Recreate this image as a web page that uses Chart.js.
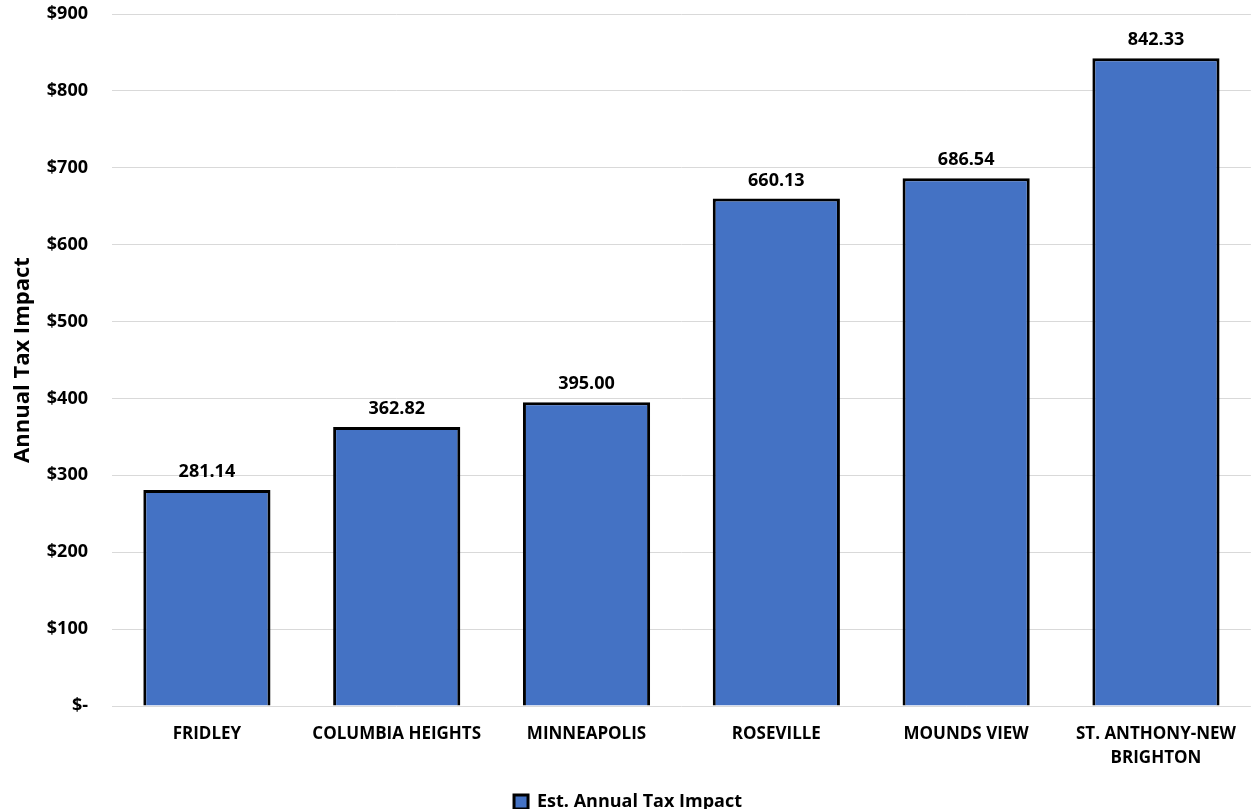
<!DOCTYPE html>
<html lang="en">
<head>
    <meta charset="UTF-8">
    <title>Est. Annual Tax Impact</title>
    <style>
        body {
            margin: 0;
            padding: 0;
            background: white;
        }

        .chart-box {
            width: 1252px;
            height: 809px;
        }
    </style>
</head>
<body>
    <div class="chart-box">
        <canvas id="taxChart"></canvas>
    </div>

    <script src="https://cdn.jsdelivr.net/npm/chart.js"></script>
    <script>
        // data
        const cities = ["FRIDLEY", "COLUMBIA HEIGHTS", "MINNEAPOLIS", "ROSEVILLE", "MOUNDS VIEW", ["ST. ANTHONY-NEW", "BRIGHTON"]];
        const taxImpact = [281.14, 362.82, 395.00, 660.13, 686.54, 842.33];
        const yTicks = [0, 100, 200, 300, 400, 500, 600, 700, 800, 900];

        const fontFamily = "'Open Sans', 'Noto Sans', sans-serif";

        // small plugin to write the value above every bar
        const barValues = {
            id: "barValues",
            afterDatasetsDraw(chart) {
                const ctx = chart.ctx;
                const meta = chart.getDatasetMeta(0);
                ctx.save();
                ctx.font = "bold 18px " + fontFamily;
                ctx.fillStyle = "#000";
                ctx.textAlign = "center";
                ctx.textBaseline = "middle";
                meta.data.forEach((bar, i) => {
                    ctx.fillText(taxImpact[i].toFixed(2), bar.x, bar.y - 18);
                });
                ctx.restore();
            }
        };

        const ctx = document.getElementById("taxChart").getContext("2d");
        new Chart(ctx, {
            type: "bar",
            data: {
                labels: cities,
                datasets: [{
                    label: "Est. Annual Tax Impact",
                    data: taxImpact,
                    backgroundColor: "#4472C4",
                    borderColor: "#000",
                    borderWidth: 3,
                    categoryPercentage: 1,
                    barPercentage: 0.67
                }]
            },
            options: {
                responsive: true,
                maintainAspectRatio: false,
                animation: false,
                layout: {
                    padding: { top: 14, right: 0, left: 4, bottom: -12 }
                },
                plugins: {
                    legend: {
                        position: "bottom",
                        labels: {
                            color: "#000",
                            font: { family: fontFamily, weight: "bold", size: 18 },
                            boxWidth: 14,
                            boxHeight: 14,
                            padding: 0
                        }
                    },
                    tooltip: { enabled: false }
                },
                scales: {
                    x: {
                        grid: { display: false, drawTicks: false },
                        border: { display: false },
                        ticks: {
                            color: "#000",
                            font: { family: fontFamily, weight: "bold", size: 17, lineHeight: 1.41 },
                            maxRotation: 0,
                            padding: 16
                        },
                        afterFit(axis) {
                            axis.height += 7;
                        }
                    },
                    y: {
                        min: 0,
                        max: 900,
                        afterBuildTicks(axis) {
                            axis.ticks = yTicks.map(v => ({ value: v }));
                        },
                        afterFit(axis) {
                            axis.paddingTop = 0;
                            axis.paddingBottom = 0;
                            axis.width = 108;
                        },
                        grid: { color: "#d9d9d9", lineWidth: 1, drawTicks: false },
                        border: { display: false },
                        title: {
                            display: true,
                            text: "Annual Tax Impact",
                            color: "#000",
                            font: { family: fontFamily, weight: "bold", size: 22 },
                            padding: { top: 6, bottom: 6 }
                        },
                        ticks: {
                            color: "#000",
                            font: { family: fontFamily, weight: "bold", size: 18 },
                            padding: 24,
                            callback: v => v === 0 ? "$-" : "$" + v
                        }
                    }
                }
            },
            plugins: [barValues]
        });
    </script>
</body>
</html>
